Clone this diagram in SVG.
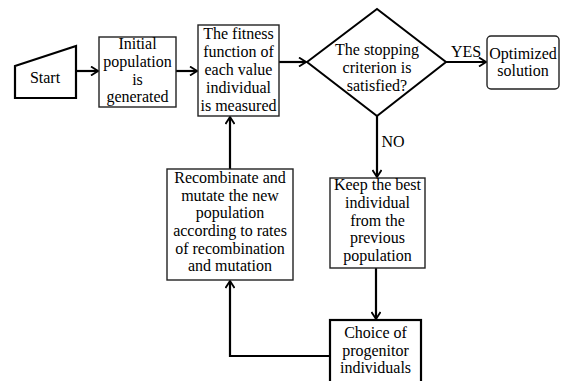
<svg xmlns="http://www.w3.org/2000/svg" width="582" height="381" viewBox="0 0 582 381" font-family="'Liberation Serif', 'Times New Roman', serif" font-size="16">
<style>
text{font-family:"Liberation Serif","Times New Roman",serif !important;font-size:16px;fill:#000;text-anchor:middle}
.box{fill:#fff;stroke:#222;stroke-width:1.4}
.thick{fill:#fff;stroke:#000;stroke-width:2.2}
.conn{fill:none;stroke:#000;stroke-width:2.2}
</style>
<defs>
<marker id="ah" viewBox="0 0 10 10" refX="9" refY="5" markerWidth="10" markerHeight="10" markerUnits="userSpaceOnUse" orient="auto">
<path d="M2,0.5 L9,5 L2,9.5" fill="none" stroke="#000" stroke-width="1.8"/>
</marker>
</defs>
<g id="connectors">
<line class="conn" x1="76" y1="71" x2="98" y2="71" marker-end="url(#ah)"/>
<line class="conn" x1="176" y1="71" x2="197" y2="71" marker-end="url(#ah)"/>
<line class="conn" x1="279" y1="62" x2="306" y2="62" marker-end="url(#ah)"/>
<line class="conn" x1="446" y1="62" x2="486" y2="62" marker-end="url(#ah)"/>
<line class="conn" x1="377" y1="116" x2="377" y2="177" marker-end="url(#ah)"/>
<line class="conn" x1="376" y1="268" x2="376" y2="319" marker-end="url(#ah)"/>
<polyline class="conn" points="330,356 230,356 230,281" marker-end="url(#ah)"/>
<line class="conn" x1="230" y1="169" x2="230" y2="117" marker-end="url(#ah)"/>
<text x="466" y="57" font-family="'Liberation Serif', serif">YES</text>
<text x="393" y="147" font-family="'Liberation Serif', serif">NO</text>
</g>
<g id="start" font-family="'Liberation Serif', serif">
<polygon class="thick" points="15,66 76,46 76,98 15,98"/>
<text x="45" y="83" font-family="'Liberation Serif', serif">Start</text>
</g>
<g id="initial" font-family="'Liberation Serif', serif">
<rect class="box" x="99" y="37" width="77" height="70"/>
<text x="137.5" y="49" font-family="'Liberation Serif', serif">Initial</text>
<text x="137.5" y="67" font-family="'Liberation Serif', serif">population</text>
<text x="137.5" y="85" font-family="'Liberation Serif', serif">is</text>
<text x="137.5" y="102" font-family="'Liberation Serif', serif">generated</text>
</g>
<g id="fitness" font-family="'Liberation Serif', serif">
<rect class="box" x="198" y="25" width="81" height="91"/>
<text x="238.5" y="39" font-family="'Liberation Serif', serif">The fitness</text>
<text x="238.5" y="57" font-family="'Liberation Serif', serif">function of</text>
<text x="238.5" y="75" font-family="'Liberation Serif', serif">each value</text>
<text x="238.5" y="93" font-family="'Liberation Serif', serif">individual</text>
<text x="238.5" y="111" font-family="'Liberation Serif', serif">is measured</text>
</g>
<g id="decision" font-family="'Liberation Serif', serif">
<polygon points="307,62 377,9 446,62 377,116" fill="#fff" stroke="#000" stroke-width="2"/>
<text x="377" y="55" font-family="'Liberation Serif', serif">The stopping</text>
<text x="377" y="73" font-family="'Liberation Serif', serif">criterion is</text>
<text x="377" y="91" font-family="'Liberation Serif', serif">satisfied?</text>
</g>
<g id="optimized" font-family="'Liberation Serif', serif">
<rect class="box" x="487" y="36" width="72" height="53" rx="4"/>
<text x="523" y="59" font-family="'Liberation Serif', serif">Optimized</text>
<text x="523" y="76" font-family="'Liberation Serif', serif">solution</text>
</g>
<g id="keep" font-family="'Liberation Serif', serif">
<rect class="box" x="330" y="178" width="95" height="90"/>
<text x="377.5" y="190" font-family="'Liberation Serif', serif">Keep the best</text>
<text x="377.5" y="208" font-family="'Liberation Serif', serif">individual</text>
<text x="377.5" y="226" font-family="'Liberation Serif', serif">from the</text>
<text x="377.5" y="243" font-family="'Liberation Serif', serif">previous</text>
<text x="377.5" y="261" font-family="'Liberation Serif', serif">population</text>
</g>
<g id="choice" font-family="'Liberation Serif', serif">
<rect class="thick" x="330" y="320" width="91" height="66"/>
<text x="375.5" y="338" font-family="'Liberation Serif', serif">Choice of</text>
<text x="375.5" y="356" font-family="'Liberation Serif', serif">progenitor</text>
<text x="375.5" y="373" font-family="'Liberation Serif', serif">individuals</text>
</g>
<g id="recombinate" font-family="'Liberation Serif', serif">
<rect class="box" x="167" y="169" width="126" height="111"/>
<text x="230" y="183" font-family="'Liberation Serif', serif">Recombinate and</text>
<text x="230" y="201" font-family="'Liberation Serif', serif">mutate the new</text>
<text x="230" y="218" font-family="'Liberation Serif', serif">population</text>
<text x="230" y="236" font-family="'Liberation Serif', serif">according to rates</text>
<text x="230" y="254" font-family="'Liberation Serif', serif">of recombination</text>
<text x="230" y="271" font-family="'Liberation Serif', serif">and mutation</text>
</g>
</svg>
